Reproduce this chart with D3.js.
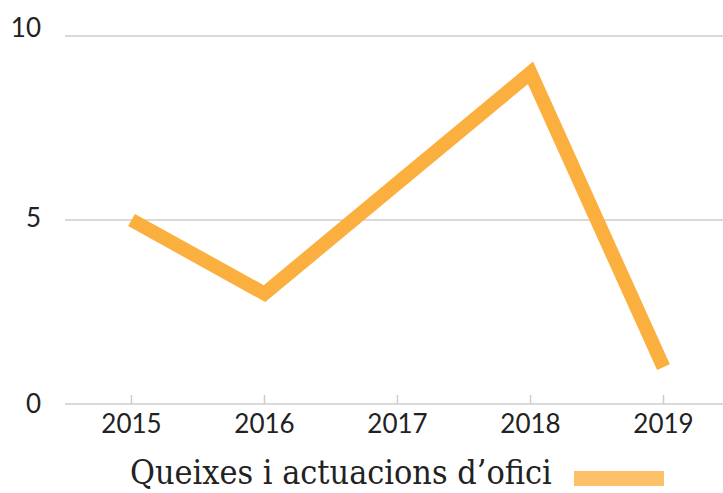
<!DOCTYPE html>
<html>
<head>
<meta charset="utf-8">
<script src="https://cdn.jsdelivr.net/npm/d3@7"></script>
<style>
  body { margin: 0; background: #fff; }
</style>
</head>
<body>
<div id="chart-area"></div>
<script>
var years = ["2015", "2016", "2017", "2018", "2019"];
var values = [5, 3, 6, 9, 1];
var yTicks = [0, 5, 10];
var seriesName = "Queixes i actuacions d\u2019ofici";

var W = 723, H = 493;

var svg = d3.select("#chart-area").append("svg")
    .attr("width", W)
    .attr("height", H);

var x = d3.scalePoint()
    .domain(years)
    .range([65, 730])
    .padding(0.5);

var y = d3.scaleLinear()
    .domain([0, 10])
    .range([404, 36]);

// gridlines
svg.selectAll("line.grid")
    .data(yTicks)
    .enter()
    .append("line")
        .attr("class", "grid")
        .attr("x1", 65)
        .attr("x2", W)
        .attr("y1", (d) => { return y(d); })
        .attr("y2", (d) => { return y(d); })
        .attr("stroke", "#cccccc")
        .attr("stroke-width", 1.5);

// y labels
svg.selectAll("text.ylab")
    .data(yTicks)
    .enter()
    .append("text")
        .attr("class", "ylab")
        .attr("x", 41)
        .attr("y", (d) => { return y(d) + (d == 10 ? -8 : (d == 5 ? -2 : 0)); })
        .attr("dy", "0.35em")
        .attr("text-anchor", "end")
        .attr("font-family", "Lato, sans-serif")
        .attr("font-size", 26)
        .attr("fill", "#222")
        .text((d) => { return d; });

// x ticks (pointing up from baseline)
svg.selectAll("line.xtick")
    .data(years)
    .enter()
    .append("line")
        .attr("class", "xtick")
        .attr("x1", (d) => { return x(d); })
        .attr("x2", (d) => { return x(d); })
        .attr("y1", y(0) - 9)
        .attr("y2", y(0))
        .attr("stroke", "#cccccc")
        .attr("stroke-width", 1.5);

svg.selectAll("text.xlab")
    .data(years)
    .enter()
    .append("text")
        .attr("class", "xlab")
        .attr("x", (d) => { return x(d); })
        .attr("y", 433)
        .attr("text-anchor", "middle")
        .attr("font-family", "Lato, sans-serif")
        .attr("font-size", 26)
        .attr("fill", "#222")
        .text((d) => { return d; });

var line = d3.line()
    .x((d, i) => { return x(years[i]); })
    .y((d) => { return y(d); });

svg.append("path")
    .datum(values)
    .attr("d", line)
    .attr("fill", "none")
    .attr("stroke", "#fbaf3f")
    .attr("stroke-width", 14)
    .attr("stroke-linejoin", "miter")
    .attr("stroke-linecap", "butt");

// legend
var leg = svg.append("text")
    .attr("x", 130)
    .attr("y", 484)
    .attr("font-family", "'DejaVu Serif Condensed', 'DejaVu Serif', serif")
    .attr("font-stretch", "condensed")
    .attr("font-size", 27)
    .attr("fill", "#222")
    .text(seriesName);

var len = leg.node().getComputedTextLength();
leg.attr("font-size", 27 * 422 / len);

svg.append("rect")
    .attr("x", 574)
    .attr("y", 471)
    .attr("width", 90)
    .attr("height", 15)
    .attr("fill", "#fcc068");
</script>
</body>
</html>
